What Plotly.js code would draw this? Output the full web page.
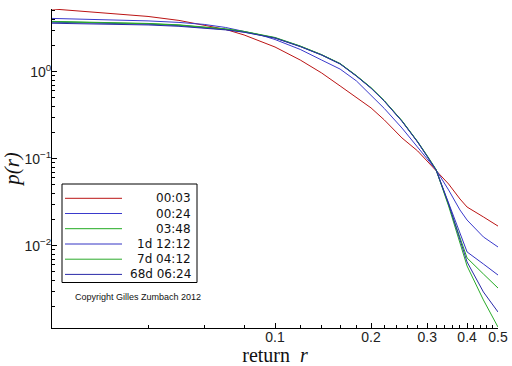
<!DOCTYPE html>
<html><head><meta charset="utf-8">
<script src="https://cdn.plot.ly/plotly-3.0.1.min.js"></script>
<style>html,body{margin:0;padding:0;background:#fff;} #chart{width:512px;height:366px;}</style>
</head><body><div id="chart"></div>
<script>
// ---- data ----
const returns = [0.02,0.03,0.04,0.05,0.06,0.07,0.08,0.09,0.1,0.12,0.14,0.16,0.18,0.2,0.22,0.25,0.28,0.3,0.32,0.35,0.38,0.4,0.45,0.5];
const seriesNames = ["00:03","00:24","03:48","1d 12:12","7d 04:12","68d 06:24"];
const p_00_03 = [5.26,4.73,4.31,3.88,3.44,3.06,2.64,2.25,1.92,1.36,0.966,0.685,0.498,0.383,0.279,0.173,0.1226,0.0941,0.0742,0.0512,0.0344,0.0278,0.0214,0.0168];
const p_00_24 = [4.09,3.98,3.83,3.68,3.49,3.22,2.90,2.64,2.34,1.80,1.36,1.07,0.782,0.540,0.378,0.225,0.133,0.0992,0.0742,0.0437,0.0257,0.0197,0.0126,0.00966];
const p_03_48 = [3.78,3.68,3.58,3.45,3.26,3.10,2.90,2.67,2.47,1.97,1.57,1.24,0.90,0.655,0.465,0.273,0.157,0.108,0.075,0.0294,0.01226,0.00722,0.00473,0.00326];
const p_1d_12_12 = [3.70,3.61,3.51,3.38,3.21,3.05,2.85,2.63,2.44,1.95,1.56,1.23,0.89,0.648,0.46,0.27,0.155,0.106,0.0735,0.0310,0.0136,0.00847,0.00616,0.00460];
const p_7d_04_12 = [3.75,3.65,3.55,3.42,3.24,3.08,2.88,2.65,2.45,1.96,1.56,1.235,0.895,0.652,0.462,0.272,0.156,0.107,0.074,0.0286,0.01103,0.00584,0.00238,0.00116];
const p_68d_06_24 = [3.60,3.52,3.44,3.32,3.17,3.02,2.84,2.62,2.43,1.94,1.55,1.225,0.888,0.645,0.458,0.269,0.155,0.106,0.0738,0.0302,0.01163,0.00650,0.00294,0.00173];
const xTickVals = [0.1,0.2,0.3,0.4,0.5];
const xTickText = ["0.1","0.2","0.3","0.4","0.5"];
const yTickVals = [1,0.1,0.01];
const yTickText = ["10<sup>0</sup>","10<sup>\u22121</sup>","10<sup>\u22122</sup>"];

// ---- styling ----
const seriesValues = [p_00_03,p_00_24,p_03_48,p_1d_12_12,p_7d_04_12,p_68d_06_24];
const colors = ["#bb1414","#3a3acc","#22aa22","#3434c4","#2aaa2a","#2a2aa8"];

const traces = seriesValues.map((v,i)=>({
  x: returns, y: v, type:"scatter", mode:"lines", name: seriesNames[i],
  line:{color:colors[i], width:1}, showlegend:false, hoverinfo:"skip"
}));

const xMinor = [0.04,0.06,0.08,0.12,0.14,0.16,0.18,0.22,0.24,0.26,0.28,0.32,0.34,0.36,0.38,0.42,0.44,0.46,0.48];
const yMinor = [];
[0.001,0.01,0.1,1].forEach(d=>{for(let k=2;k<=9;k++){yMinor.push(+(d*k).toPrecision(3));}});

// pixel helpers for the legend box (plot area 52..498 x 9..328)
const L=52,R=498,T=9,B=328;
const px = x => (x-L)/(R-L);
const py = y => (B-y)/(B-T);

const shapes = [{type:"rect", xref:"paper", yref:"paper", x0:px(62), x1:px(197), y0:py(184), y1:py(282.5), line:{color:"#000", width:1}, fillcolor:"rgba(255,255,255,0)"}];
const annotations = [];
const rows = [198.3,213.5,228.7,244,259.2,274.4];
seriesNames.forEach((n,i)=>{
  shapes.push({type:"line", xref:"paper", yref:"paper", x0:px(65), x1:px(122), y0:py(rows[i]), y1:py(rows[i]), line:{color:colors[i], width:1}});
  annotations.push({xref:"paper", yref:"paper", x:px(193), y:py(rows[i]), xanchor:"right", yanchor:"middle", text:n, showarrow:false, font:{family:"DejaVu Sans, sans-serif", size:12, color:"#111"}});
});
annotations.push({xref:"paper", yref:"paper", x:px(138), y:py(297), xanchor:"center", yanchor:"middle", text:"Copyright Gilles Zumbach 2012", showarrow:false, font:{family:"Liberation Sans, Arial, sans-serif", size:9, color:"#111"}});

const layout = {
  width:512, height:366,
  margin:{l:L, r:512-R, t:T, b:366-B, pad:0},
  paper_bgcolor:"#fff", plot_bgcolor:"#fff",
  showlegend:false,
  xaxis:{type:"log", range:[Math.log10(0.02), Math.log10(0.5)], showline:true, linecolor:"#000", linewidth:1,
    showgrid:false, zeroline:false, ticks:"inside", ticklen:5, tickcolor:"#000", tickmode:"array",
    tickvals:xTickVals, ticktext:xTickText, ticklabelstandoff:-4,
    tickfont:{family:"Liberation Sans, Arial, sans-serif", size:14, color:"#222"},
    minor:{tickmode:"array", tickvals:xMinor, ticks:"inside", ticklen:3, tickcolor:"#000", showgrid:false},
    title:{text:"return&nbsp;&nbsp;<i>r</i>", font:{family:"Liberation Serif, Times New Roman, serif", size:20, color:"#111"}, standoff:4}},
  yaxis:{type:"log", range:[-2.946, 0.72], showline:true, linecolor:"#000", linewidth:1,
    showgrid:false, zeroline:false, ticks:"inside", ticklen:5, tickcolor:"#000", tickmode:"array",
    tickvals:yTickVals, ticktext:yTickText, ticklabelstandoff:-3,
    tickfont:{family:"Liberation Sans, Arial, sans-serif", size:14, color:"#222"},
    minor:{tickmode:"array", tickvals:yMinor, ticks:"inside", ticklen:3, tickcolor:"#000", showgrid:false},
    title:{text:"<i>p(r)</i>", font:{family:"Liberation Serif, Times New Roman, serif", size:21, color:"#111"}, standoff:2}},
  shapes: shapes, annotations: annotations
};
Plotly.newPlot("chart", traces, layout, {staticPlot:true, displayModeBar:false});
</script></body></html>
